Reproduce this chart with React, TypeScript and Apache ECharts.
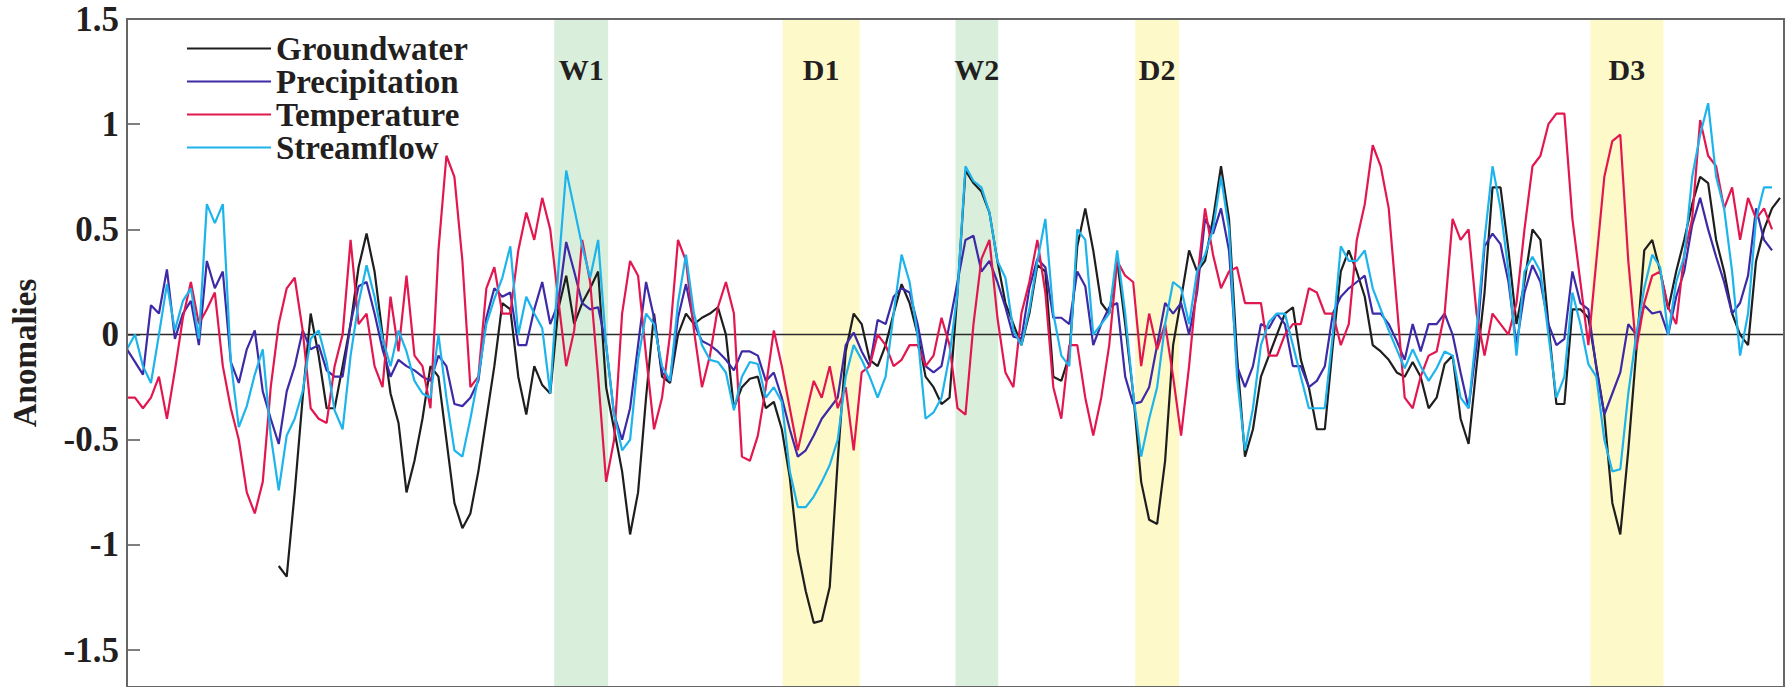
import React, { useEffect, useRef } from "react";
import * as echarts from "echarts";

const yTickLabels = ["-1.5", "-1", "-0.5", "0", "0.5", "1", "1.5"];
const seriesNames = ["Groundwater", "Precipitation", "Temperature", "Streamflow"];
const seriesColors = ["#1e1e1e", "#3d2aa6", "#e3174f", "#1db4ec"];

// samples are evenly spaced; groundwater starts later than the others
const gwStart = 19;
const groundwater = [
  -1.10, -1.15, -0.75, -0.30, 0.10, -0.10, -0.35, -0.35, -0.15, 0.05,
  0.32, 0.48, 0.30, 0.00, -0.28, -0.42, -0.75, -0.60, -0.40, -0.15,
  -0.20, -0.50, -0.80, -0.92, -0.85, -0.65, -0.40, -0.15, 0.15, 0.12,
  -0.20, -0.38, -0.15, -0.24, -0.28, 0.12, 0.28, 0.05, 0.15, 0.22,
  0.30, -0.25, -0.45, -0.65, -0.95, -0.75, -0.30, 0.10, -0.20, -0.23,
  0.00, 0.10, 0.05, 0.08, 0.10, 0.13, 0.00, -0.35, -0.25, -0.21,
  -0.20, -0.35, -0.32, -0.45, -0.68, -1.03, -1.22, -1.37, -1.36, -1.20,
  -0.60, -0.08, 0.10, 0.05, -0.12, -0.15, -0.05, 0.10, 0.24, 0.15,
  0.00, -0.20, -0.25, -0.33, -0.30, 0.20, 0.78, 0.72, 0.68, 0.58,
  0.35, 0.15, 0.05, -0.05, 0.10, 0.33, 0.30, -0.20, -0.22, -0.10,
  0.42, 0.60, 0.40, 0.15, 0.10, 0.35, 0.05, -0.28, -0.70, -0.88,
  -0.90, -0.60, -0.05, 0.17, 0.40, 0.30, 0.35, 0.55, 0.80, 0.55,
  -0.10, -0.58, -0.45, -0.20, -0.10, 0.00, 0.10, 0.13, -0.12, -0.25,
  -0.45, -0.45, -0.05, 0.30, 0.40, 0.30, 0.18, -0.05, -0.08, -0.12,
  -0.18, -0.20, -0.13, -0.20, -0.35, -0.30, -0.14, -0.10, -0.40, -0.52,
  -0.15, 0.20, 0.70, 0.70, 0.40, 0.05, 0.25, 0.50, 0.45, 0.05,
  -0.33, -0.33, 0.12, 0.12, 0.08, -0.15, -0.38, -0.80, -0.95, -0.55,
  -0.08, 0.40, 0.45, 0.30, 0.12, 0.30, 0.45, 0.62, 0.75, 0.72,
  0.45, 0.30, 0.10, 0.00, -0.05, 0.35, 0.50, 0.60, 0.65,
];
const precipitation = [
  -0.07, -0.13, -0.19, 0.14, 0.10, 0.31, -0.02, 0.10, 0.16, -0.05,
  0.35, 0.22, 0.30, -0.13, -0.23, -0.07, 0.02, -0.27, -0.40, -0.52,
  -0.27, -0.15, 0.02, -0.07, -0.05, -0.17, -0.20, -0.20, 0.05, 0.23,
  0.25, 0.10, -0.07, -0.20, -0.12, -0.15, -0.17, -0.20, -0.22, -0.10,
  -0.15, -0.33, -0.34, -0.30, -0.22, 0.08, 0.22, 0.18, 0.20, -0.05,
  -0.05, 0.12, 0.25, 0.05, 0.15, 0.44, 0.30, 0.15, 0.12, 0.13,
  -0.05, -0.38, -0.50, -0.35, -0.05, 0.25, 0.08, -0.18, -0.22, 0.08,
  0.24, 0.05, -0.03, -0.05, -0.08, -0.12, -0.17, -0.08, -0.08, -0.10,
  -0.22, -0.18, -0.30, -0.45, -0.58, -0.55, -0.48, -0.40, -0.35, -0.30,
  -0.05, 0.01, -0.08, -0.15, 0.07, 0.05, 0.18, 0.22, 0.20, 0.05,
  -0.15, -0.18, -0.15, 0.05, 0.25, 0.45, 0.47, 0.30, 0.35, 0.25,
  0.13, -0.01, -0.02, 0.22, 0.36, 0.32, 0.08, 0.08, 0.05, 0.30,
  0.23, -0.05, 0.05, 0.13, 0.15, -0.20, -0.33, -0.32, -0.25, -0.05,
  0.15, 0.10, 0.15, 0.00, 0.20, 0.55, 0.48, 0.60, 0.40, -0.15,
  -0.25, -0.15, 0.05, 0.03, 0.10, 0.05, -0.15, -0.15, -0.25, -0.22,
  -0.15, 0.10, 0.18, 0.22, 0.25, 0.28, 0.10, 0.10, 0.05, -0.03,
  -0.12, 0.05, -0.08, 0.05, 0.05, 0.10, 0.00, -0.18, -0.35, -0.05,
  0.42, 0.48, 0.43, 0.25, -0.05, 0.20, 0.33, 0.25, 0.05, -0.05,
  -0.02, 0.30, 0.15, 0.12, -0.16, -0.38, -0.28, -0.18, 0.05, 0.00,
  0.14, 0.10, 0.11, 0.00, 0.18, 0.30, 0.52, 0.65, 0.50, 0.37,
  0.25, 0.10, 0.15, 0.28, 0.60, 0.45, 0.40,
];
const temperature = [
  -0.30, -0.30, -0.35, -0.30, -0.20, -0.40, -0.17, 0.08, 0.25, 0.05,
  0.12, 0.20, -0.15, -0.35, -0.50, -0.75, -0.85, -0.70, -0.25, 0.05,
  0.22, 0.27, 0.02, -0.35, -0.40, -0.42, -0.15, 0.00, 0.45, 0.05,
  0.10, -0.15, -0.25, 0.18, -0.08, 0.28, -0.10, -0.15, -0.35, 0.40,
  0.85, 0.75, 0.35, -0.25, -0.20, 0.22, 0.32, 0.10, 0.10, 0.40,
  0.58, 0.45, 0.65, 0.50, 0.17, -0.15, 0.02, 0.45, 0.25, -0.20,
  -0.70, -0.50, 0.10, 0.35, 0.28, -0.10, -0.45, -0.30, 0.00, 0.45,
  0.35, 0.02, -0.25, -0.10, 0.13, 0.25, 0.10, -0.58, -0.60, -0.48,
  -0.25, 0.02, -0.15, -0.35, -0.55, -0.38, -0.22, -0.30, -0.15, -0.35,
  -0.25, -0.55, -0.18, -0.15, 0.00, -0.05, -0.15, -0.12, -0.05, -0.05,
  -0.15, -0.10, 0.08, -0.05, -0.35, -0.38, 0.05, 0.36, 0.45, 0.08,
  -0.18, -0.25, 0.10, 0.25, 0.45, 0.20, -0.25, -0.40, -0.05, -0.05,
  -0.30, -0.48, -0.30, -0.05, 0.35, 0.28, 0.25, -0.15, 0.10, -0.07,
  0.05, -0.20, -0.48, -0.15, 0.25, 0.60, 0.38, 0.22, 0.30, 0.32,
  0.15, 0.15, 0.15, -0.10, -0.10, 0.00, 0.05, 0.05, 0.22, 0.20,
  0.10, 0.10, -0.05, 0.05, 0.45, 0.62, 0.90, 0.80, 0.60, 0.15,
  -0.30, -0.35, -0.20, -0.10, -0.08, 0.10, 0.55, 0.45, 0.50, 0.10,
  -0.10, 0.10, 0.05, 0.00, 0.15, 0.50, 0.80, 0.85, 1.00, 1.05,
  1.05, 0.55, 0.25, -0.05, 0.35, 0.75, 0.92, 0.95, 0.35, -0.07,
  0.15, 0.28, 0.30, 0.13, 0.05, 0.38, 0.55, 1.02, 0.85, 0.80,
  0.60, 0.70, 0.45, 0.65, 0.55, 0.60, 0.50,
];
const streamflow = [
  -0.07, 0.00, -0.15, -0.23, 0.00, 0.24, 0.02, 0.16, 0.22, -0.02,
  0.62, 0.53, 0.62, -0.13, -0.44, -0.34, -0.19, -0.07, -0.48, -0.74,
  -0.48, -0.40, -0.27, -0.02, 0.02, -0.13, -0.36, -0.45, -0.10, 0.15,
  0.33, 0.18, -0.02, -0.15, 0.02, -0.08, -0.22, -0.28, -0.30, 0.00,
  -0.30, -0.55, -0.58, -0.40, -0.20, 0.05, 0.17, 0.27, 0.42, 0.00,
  0.18, 0.10, 0.03, -0.28, 0.30, 0.78, 0.60, 0.42, 0.27, 0.45,
  -0.05, -0.38, -0.55, -0.50, -0.12, 0.10, 0.05, -0.15, -0.22, 0.15,
  0.38, 0.10, -0.05, -0.12, -0.13, -0.18, -0.36, -0.20, -0.13, -0.14,
  -0.30, -0.25, -0.32, -0.65, -0.82, -0.82, -0.77, -0.70, -0.62, -0.50,
  -0.20, -0.05, -0.12, -0.20, -0.30, -0.20, 0.10, 0.38, 0.25, 0.00,
  -0.40, -0.37, -0.30, -0.10, 0.20, 0.80, 0.73, 0.70, 0.58, 0.35,
  0.27, 0.02, -0.05, 0.12, 0.35, 0.55, 0.10, -0.10, -0.15, 0.50,
  0.45, 0.00, 0.05, 0.10, 0.40, 0.10, -0.28, -0.58, -0.40, -0.25,
  0.05, 0.25, 0.22, 0.05, 0.30, 0.38, 0.50, 0.75, 0.50, -0.20,
  -0.55, -0.35, -0.05, 0.06, 0.10, 0.10, -0.05, -0.20, -0.35, -0.35,
  -0.35, 0.00, 0.42, 0.35, 0.35, 0.40, 0.22, 0.12, 0.02, -0.07,
  -0.16, -0.07, -0.15, -0.22, -0.16, -0.08, -0.10, -0.30, -0.35, 0.02,
  0.45, 0.80, 0.60, 0.30, -0.10, 0.30, 0.37, 0.30, 0.00, -0.30,
  -0.20, 0.20, 0.05, -0.14, -0.20, -0.50, -0.65, -0.64, -0.28, 0.00,
  0.22, 0.38, 0.32, 0.00, 0.25, 0.37, 0.75, 0.95, 1.10, 0.75,
  0.60, 0.30, -0.10, 0.10, 0.55, 0.70, 0.70,
];

const bandNames = ["W1", "D1", "W2", "D2", "D3"];
const bandStart = [53.5, 82.1, 103.75, 126.25, 183.25];
const bandEnd = [60.25, 91.75, 109.1, 131.75, 192.4];
const bandColors: Record<string, string> = { W: "#d9efdb", D: "#fef9c9" };

export default function App() {
  const ref = useRef<HTMLDivElement>(null);

  useEffect(() => {
    if (!ref.current) return;
    const chart = echarts.init(ref.current, undefined, { renderer: "svg" });
    const font = "'Liberation Serif', 'Times New Roman', serif";
    const textColor = "#231f20";

    const seriesData = [groundwater, precipitation, temperature, streamflow];
    const lineSeries = seriesData.map((vals, s) => ({
      name: seriesNames[s],
      type: "line",
      data: vals.map((v, i) => [(s === 0 ? gwStart : 0) + i, v]),
      symbol: "none",
      showSymbol: false,
      z: 3,
      lineStyle: { color: seriesColors[s], width: 2.2 },
      itemStyle: { color: seriesColors[s] },
      emphasis: { disabled: true },
    }));

    const bandSeries = {
      name: "bands",
      type: "line",
      data: [],
      z: 1,
      silent: true,
      markArea: {
        silent: true,
        data: bandNames.map((n, i) => [
          {
            name: n,
            xAxis: bandStart[i],
            itemStyle: { color: bandColors[n.charAt(0)], opacity: 1 },
          },
          { xAxis: bandEnd[i] },
        ]),
        label: {
          show: true,
          position: "insideTop",
          distance: 35,
          color: textColor,
          fontFamily: font,
          fontWeight: "bold",
          fontSize: 30,
        },
      },
    };

    chart.setOption({
      animation: false,
      backgroundColor: "#ffffff",
      grid: {
        left: 124,
        top: 19,
        width: 1660,
        height: 671,
        show: true,
        borderColor: "#666666",
        borderWidth: 2,
        z: 4,
      },
      legend: {
        data: seriesNames,
        orient: "vertical",
        left: 182,
        top: 27,
        icon: "rect",
        itemWidth: 84,
        itemHeight: 2,
        itemGap: 0,
        selectedMode: false,
        textStyle: {
          fontFamily: font,
          fontWeight: "bold",
          fontSize: 33,
          lineHeight: 31,
          color: textColor,
        },
      },
      xAxis: {
        type: "value",
        min: 0,
        max: 207.5,
        z: 2,
        axisLine: { show: true, onZero: true, lineStyle: { color: "#2a2a2a", width: 1.3 } },
        axisTick: { show: false },
        axisLabel: { show: false },
        splitLine: { show: false },
      },
      yAxis: {
        type: "value",
        min: -1.675,
        max: 1.5,
        axisLine: { show: false },
        axisTick: { show: true, inside: true, length: 13, lineStyle: { color: "#555555", width: 1.5 } },
        axisLabel: {
          margin: 8,
          fontFamily: font,
          fontWeight: "bold",
          fontSize: 35,
          lineHeight: 28,
          color: textColor,
          showMinLabel: false,
          formatter: (v: number) => {
            const s = String(Math.round(v * 100) / 100);
            return yTickLabels.includes(s) ? s : "";
          },
        },
        splitLine: { show: false },
        name: "Anomalies",
        nameLocation: "middle",
        nameGap: 86,
        nameTextStyle: {
          fontFamily: font,
          fontWeight: "bold",
          fontSize: 33,
          color: textColor,
        },
      },
      series: [bandSeries, ...lineSeries],
    });

    return () => chart.dispose();
  }, []);

  return (
    <div
      ref={ref}
      style={{ position: "fixed", left: 0, top: 0, width: 1789, height: 687, background: "#fff" }}
    />
  );
}
